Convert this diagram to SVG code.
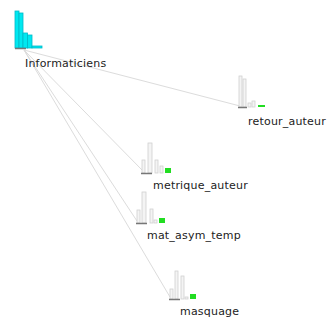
<svg xmlns="http://www.w3.org/2000/svg" width="329" height="324" viewBox="0 0 329 324">
<style>
.lbl{font-family:"DejaVu Sans",sans-serif;font-size:11px;fill:#222;letter-spacing:0.2px}
.e{stroke:#dcdcdc;stroke-width:1;fill:none}
.w{fill:#f4f4f4;stroke:#d0d0d0;stroke-width:0.8}
.c{fill:#00e8f0;stroke:#00b8c8;stroke-width:0.8}
.g{fill:#22dd22}
.b{stroke:#777;stroke-width:1.5}
</style>
<rect width="329" height="324" fill="#fff"/>
<g id="edges">
<line class="e" x1="24" y1="50" x2="240" y2="106"/>
<line class="e" x1="24" y1="50" x2="142" y2="170"/>
<line class="e" x1="24" y1="50" x2="137" y2="221"/>
<line class="e" x1="24" y1="50" x2="170" y2="297"/>
</g>
<g id="Informaticiens">
<rect class="c" x="15" y="11" width="4" height="37"/>
<rect class="c" x="19" y="13" width="4" height="35"/>
<rect class="c" x="23" y="33" width="4.5" height="15"/>
<rect class="c" x="27.5" y="35" width="4.5" height="13"/>
<rect class="c" x="32" y="46" width="10" height="2"/>
<line class="b" x1="15" y1="48.5" x2="26" y2="48.5"/>
<text class="lbl" x="25" y="67">Informaticiens</text>
</g>
<g id="retour_auteur">
<rect class="w" x="239" y="76" width="3" height="31"/>
<rect class="w" x="243" y="79" width="3" height="28"/>
<rect class="w" x="248" y="103" width="3" height="4"/>
<rect class="w" x="252" y="101" width="3" height="6"/>
<rect class="g" x="258" y="105" width="7" height="2"/>
<line class="b" x1="238" y1="107.5" x2="247" y2="107.5"/>
<text class="lbl" x="248" y="125">retour_auteur</text>
</g>
<g id="metrique_auteur">
<rect class="w" x="142" y="160" width="3" height="13"/>
<rect class="w" x="148" y="143" width="4" height="30"/>
<rect class="w" x="155" y="160" width="3" height="13"/>
<rect class="w" x="160" y="166" width="3" height="7"/>
<rect class="g" x="165" y="168" width="6" height="5"/>
<line class="b" x1="141" y1="173.5" x2="152" y2="173.5"/>
<text class="lbl" x="153" y="189">metrique_auteur</text>
</g>
<g id="mat_asym_temp">
<rect class="w" x="137" y="210" width="3" height="13"/>
<rect class="w" x="142" y="192" width="4" height="31"/>
<rect class="w" x="150" y="209" width="3" height="14"/>
<rect class="w" x="154" y="220" width="3" height="3"/>
<rect class="g" x="159" y="218" width="6" height="5"/>
<line class="b" x1="136" y1="223.5" x2="147" y2="223.5"/>
<text class="lbl" x="147" y="239">mat_asym_temp</text>
</g>
<g id="masquage">
<rect class="w" x="170" y="289" width="3" height="10"/>
<rect class="w" x="175" y="271" width="3" height="28"/>
<rect class="w" x="181" y="276" width="3" height="23"/>
<rect class="w" x="185" y="297" width="3" height="2"/>
<rect class="g" x="190" y="294" width="6" height="5"/>
<line class="b" x1="169" y1="299.5" x2="180" y2="299.5"/>
<text class="lbl" x="180" y="315">masquage</text>
</g>
</svg>
